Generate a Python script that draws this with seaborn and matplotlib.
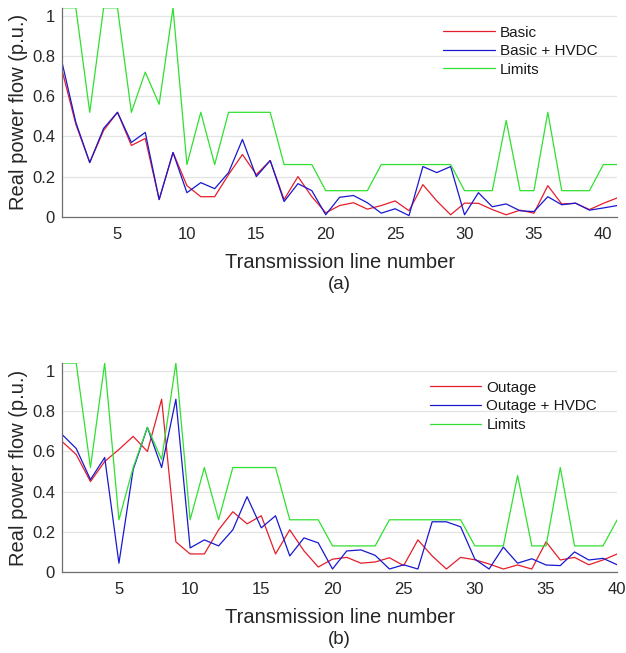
import numpy as np
import pandas as pd
import seaborn as sns
import matplotlib.pyplot as plt

# (a) basic case, 41 lines
basic = [0.73, 0.46, 0.27, 0.43, 0.52, 0.355, 0.39, 0.086, 0.32, 0.155,
         0.10, 0.10, 0.21, 0.31, 0.21, 0.28, 0.086, 0.20, 0.10, 0.02,
         0.056, 0.07, 0.038, 0.056, 0.079, 0.03, 0.16, 0.079, 0.01, 0.068,
         0.067, 0.036, 0.01, 0.033, 0.018, 0.155, 0.064, 0.067, 0.036, 0.067,
         0.094]
basic_hvdc = [0.77, 0.47, 0.27, 0.44, 0.52, 0.37, 0.42, 0.086, 0.32, 0.12,
              0.17, 0.14, 0.22, 0.385, 0.20, 0.28, 0.076, 0.165, 0.13, 0.01,
              0.097, 0.106, 0.07, 0.018, 0.04, 0.006, 0.25, 0.22, 0.25, 0.01,
              0.12, 0.05, 0.064, 0.03, 0.026, 0.10, 0.06, 0.068, 0.033, 0.044,
              0.056]
limits_a = [1.04, 1.04, 0.52, 1.04, 1.04, 0.52, 0.72, 0.56, 1.04, 0.26,
            0.52, 0.26, 0.52, 0.52, 0.52, 0.52, 0.26, 0.26, 0.26, 0.13,
            0.13, 0.13, 0.13, 0.26, 0.26, 0.26, 0.26, 0.26, 0.26, 0.13,
            0.13, 0.13, 0.48, 0.13, 0.13, 0.52, 0.13, 0.13, 0.13, 0.26,
            0.26]

# (b) outage case, 40 lines
outage = [0.65, 0.585, 0.45, 0.55, 0.61, 0.675, 0.60, 0.86, 0.15, 0.09,
          0.09, 0.21, 0.30, 0.24, 0.28, 0.09, 0.21, 0.105, 0.025, 0.064,
          0.073, 0.044, 0.05, 0.071, 0.032, 0.16, 0.08, 0.015, 0.073, 0.061,
          0.04, 0.015, 0.035, 0.015, 0.15, 0.06, 0.073, 0.036, 0.06, 0.09]
outage_hvdc = [0.685, 0.615, 0.46, 0.57, 0.044, 0.51, 0.72, 0.52, 0.86, 0.12,
               0.16, 0.13, 0.21, 0.375, 0.22, 0.28, 0.08, 0.17, 0.145, 0.015,
               0.105, 0.11, 0.083, 0.015, 0.036, 0.015, 0.25, 0.25, 0.225, 0.064,
               0.015, 0.124, 0.044, 0.066, 0.035, 0.032, 0.10, 0.06, 0.068, 0.036]
limits_b = [1.04, 1.04, 0.52, 1.04, 0.26, 0.52, 0.72, 0.56, 1.04, 0.26,
            0.52, 0.26, 0.52, 0.52, 0.52, 0.52, 0.26, 0.26, 0.26, 0.13,
            0.13, 0.13, 0.13, 0.26, 0.26, 0.26, 0.26, 0.26, 0.26, 0.13,
            0.13, 0.13, 0.48, 0.13, 0.13, 0.52, 0.13, 0.13, 0.13, 0.26]

y_ticks = [0, 0.2, 0.4, 0.6, 0.8, 1]
y_ticklabels = ["0", "0.2", "0.4", "0.6", "0.8", "1"]


def to_long(series):
    frames = []
    for name, vals in series.items():
        frames.append(pd.DataFrame({"line": np.arange(1, len(vals) + 1),
                                    "flow": vals, "case": name}))
    return pd.concat(frames, ignore_index=True)


sns.set_style("white")
plt.rcParams["font.family"] = ["Liberation Sans", "DejaVu Sans"]

fig = plt.figure(figsize=(6.26, 6.53), dpi=100)
ax_a = fig.add_axes([0.099, 0.668, 0.887, 0.32])
ax_b = fig.add_axes([0.099, 0.124, 0.887, 0.32])


def draw(ax, df, names, n, tag):
    pal = dict(zip(names, ["#e61e2a", "#1818d0", "#30e030"]))
    sns.lineplot(data=df, x="line", y="flow", hue="case", hue_order=names,
                 palette=pal, linewidth=0.9, ax=ax)
    ax.set_xlim(1, n)
    ax.set_ylim(0, 1.04)
    ax.set_xticks([5, 10, 15, 20, 25, 30, 35, 40])
    ax.set_yticks(y_ticks)
    ax.set_yticklabels(y_ticklabels)
    ax.yaxis.grid(True, color="#e3e3e3", linewidth=0.9)
    ax.set_axisbelow(True)
    for s in ["top", "right"]:
        ax.spines[s].set_visible(False)
    for s in ["left", "bottom"]:
        ax.spines[s].set_color("#6e6e6e")
        ax.spines[s].set_linewidth(0.9)
    ax.tick_params(direction="in", length=4, width=0.8, color="#6e6e6e",
                   labelsize=12, labelcolor="#262626")
    ax.tick_params(axis="x", pad=7)
    ax.tick_params(axis="y", pad=5)
    ax.set_xlabel("Transmission line number", fontsize=14.5, color="#262626",
                  labelpad=8)
    ax.set_ylabel("Real power flow (p.u.)", fontsize=14.5, color="#262626",
                  labelpad=3)
    leg = ax.legend(loc="upper right", frameon=False, fontsize=11,
                    handlelength=3.35, handletextpad=0.33, labelspacing=0.3,
                    borderpad=0, borderaxespad=0,
                    bbox_to_anchor=(0.964, 0.915))
    for t in leg.get_texts():
        t.set_color("#1a1a1a")
    ax.text(0.5, -0.325, tag, transform=ax.transAxes, ha="center",
            va="center", fontsize=13.5, color="#262626")


draw(ax_a, to_long({"Basic": basic, "Basic + HVDC": basic_hvdc,
                    "Limits": limits_a}),
     ["Basic", "Basic + HVDC", "Limits"], 41, "(a)")
draw(ax_b, to_long({"Outage": outage, "Outage + HVDC": outage_hvdc,
                    "Limits": limits_b}),
     ["Outage", "Outage + HVDC", "Limits"], 40, "(b)")

fig.savefig("out.png", dpi=100)
